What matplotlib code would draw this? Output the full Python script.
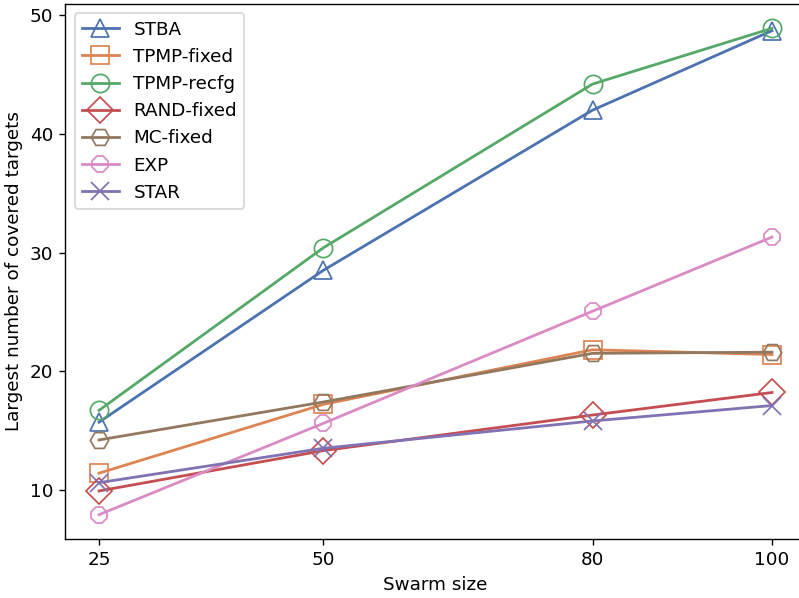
import matplotlib
matplotlib.use("Agg")
import matplotlib.pyplot as plt
import seaborn as sns

swarm_sizes = [25, 50, 80, 100]
stba = [15.7, 28.5, 42.0, 48.7]
tpmp_fixed = [11.4, 17.2, 21.8, 21.4]
tpmp_recfg = [16.7, 30.4, 44.2, 48.9]
rand_fixed = [9.9, 13.3, 16.3, 18.2]
mc_fixed = [14.2, 17.4, 21.5, 21.6]
exp_vals = [7.9, 15.6, 25.05, 31.3]
star = [10.6, 13.5, 15.8, 17.1]

pal = sns.color_palette("deep")
series = [
    ("STBA", stba, "^", pal[0]),
    ("TPMP-fixed", tpmp_fixed, "s", pal[1]),
    ("TPMP-recfg", tpmp_recfg, "o", pal[2]),
    ("RAND-fixed", rand_fixed, "D", pal[3]),
    ("MC-fixed", mc_fixed, "H", pal[5]),
    ("EXP", exp_vals, "8", pal[6]),
    ("STAR", star, "x", pal[4]),
]

plt.rcParams["font.size"] = 10.6

W, H = 799, 598
fig = plt.figure(figsize=(W/125, H/125), dpi=125)
ax = fig.add_axes([65.4/W, (H-539)/H, (805.6-65.4)/W, (539-4)/H])
for name, vals, m, c in series:
    ax.plot(swarm_sizes, vals, marker=m, color=c, markersize=10.5,
            markerfacecolor="none", markeredgecolor=c, linewidth=1.6, label=name)

ax.set_xticks(swarm_sizes)
ax.set_xlabel("Swarm size")
ax.set_ylabel("Largest number of covered targets")
ax.spines["right"].set_visible(False)
ax.legend(loc="upper left")
fig.savefig("out.png", dpi=125)
